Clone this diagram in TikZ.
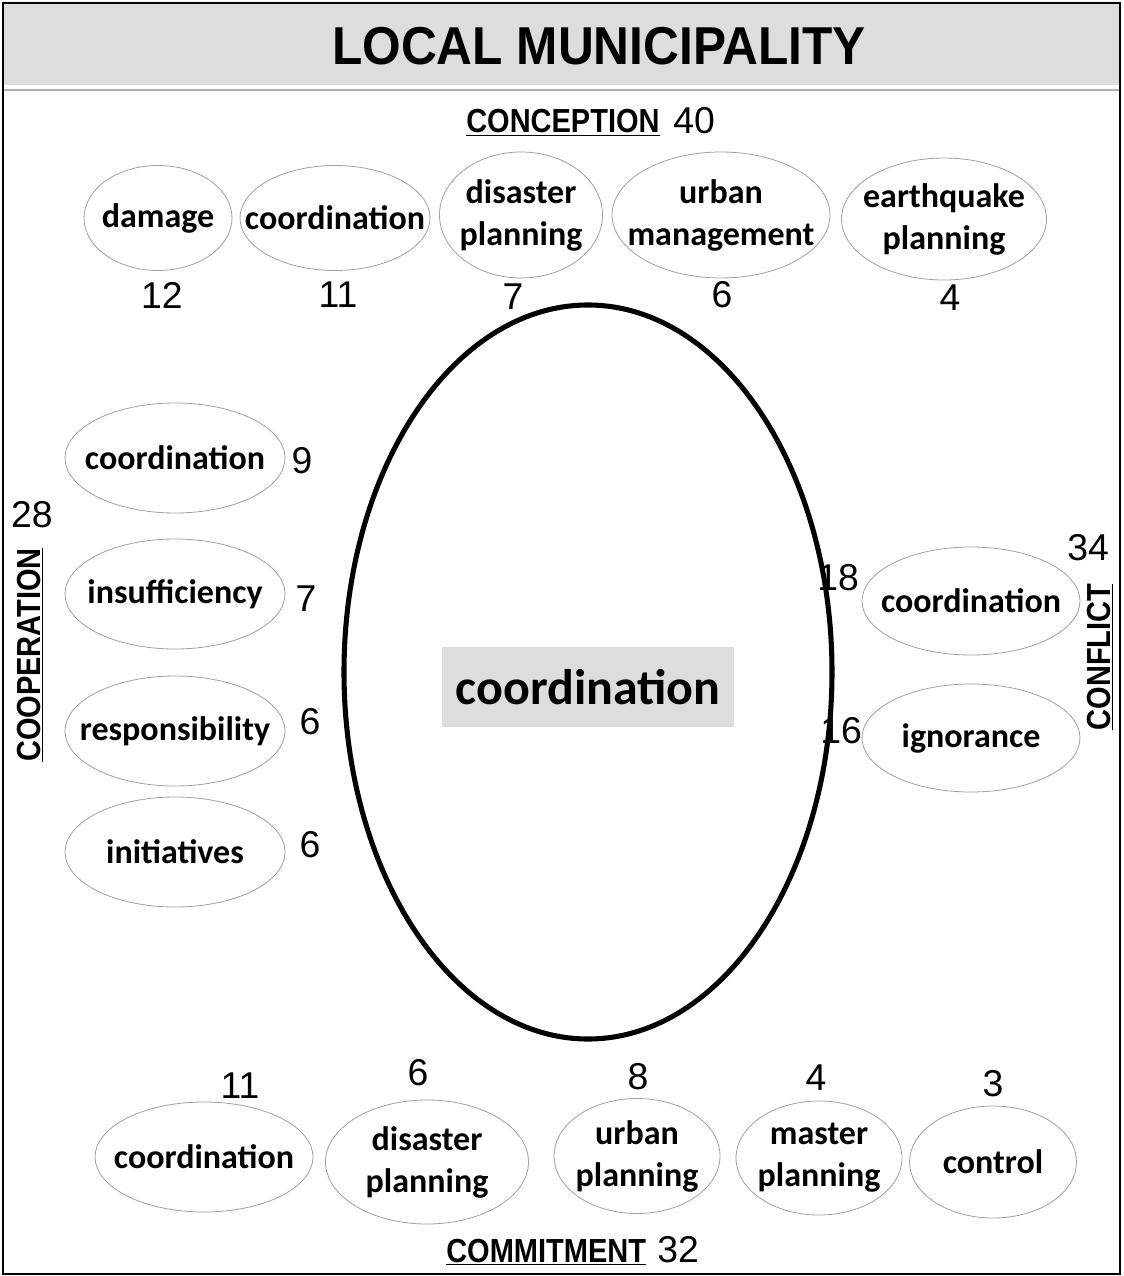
\documentclass[tikz,border=0pt]{standalone}
\usepackage{fontspec}
\usepackage{graphicx}
\setmainfont{Liberation Sans}
\newfontfamily\bubblefont{Carlito}
\usetikzlibrary{shapes.geometric}

\definecolor{bandgray}{HTML}{DCDDDC}
\definecolor{rimgray}{HTML}{A0A0A0}

\tikzset{
  bub/.style 2 args={ellipse, draw=rimgray, line width=0.6pt, inner sep=0pt,
    minimum width=#1*0.75pt, minimum height=#2*0.75pt},
  btext/.style={font=\bubblefont\bfseries\fontsize{25.5}{31.5}\selectfont,
    align=center, inner sep=0pt},
  count/.style={font=\fontsize{28}{28}\selectfont, inner sep=0pt},
  heading/.style={font=\bfseries\fontsize{25}{25}\selectfont, inner sep=0pt},
}
\newcommand{\headtext}[1]{\underline{\scalebox{0.87}[1]{#1}}}

\begin{document}
\begin{tikzpicture}[x=0.75pt, y=-0.75pt]
  \useasboundingbox (0,0) rectangle (1123,1276);

  % frame and title band
  \fill[bandgray] (4,4) rectangle (1119,85);
  \draw[bandgray!80!black, line width=1.2pt] (4,90) -- (1119,90);
  \draw[line width=2.2pt] (3,3) rectangle (1120,1274);
  \node[font=\bfseries\fontsize{40}{40}\selectfont, inner sep=0pt] (title) at (599,46)
    {\scalebox{0.93}[1]{LOCAL MUNICIPALITY}};

  % central theme
  \node[ellipse, draw, line width=3.8pt, minimum width=488*0.75pt,
    minimum height=734*0.75pt, inner sep=0pt] (core) at (588,672) {};
  \node[fill=bandgray, minimum width=292*0.75pt, minimum height=80*0.75pt,
    inner sep=0pt, font=\bubblefont\bfseries\fontsize{37.5}{37.5}\selectfont]
    (coretext) at (588,687) {coordination};

  % CONCEPTION (top)
  \node[heading, anchor=base west] (conception) at (466,133) {\headtext{CONCEPTION}};
  \node[count, anchor=base west] (conceptionN) at (673,134) {40};

  \node[bub={148}{105}] (t1) at (158,218) {};
  \node[btext] (t1l) at (t1) {damage};
  \node[bub={190}{105}] (t2) at (335,218) {};
  \node[btext] (t2l) at (t2) {coordination};
  \node[bub={163}{126}] (t3) at (521,215) {};
  \node[btext] (t3l) at (t3) {disaster\\planning};
  \node[bub={218}{126}] (t4) at (721,215) {};
  \node[btext] (t4l) at (t4) {urban\\management};
  \node[bub={205}{122}] (t5) at (944,219) {};
  \node[btext] (t5l) at (t5) {earthquake\\planning};

  \node[count] (t1n) at (162,295) {12};
  \node[count] (t2n) at (338,295) {11};
  \node[count] (t3n) at (513,297) {7};
  \node[count] (t4n) at (722,295) {6};
  \node[count] (t5n) at (950,298) {4};

  % COOPERATION (left)
  \node[heading, rotate=90] (cooperation) at (30,655) {\headtext{COOPERATION}};
  \node[count] (cooperationN) at (32,515) {28};

  \node[bub={220}{110}] (l1) at (175,458) {};
  \node[btext] (l1l) at (l1) {coordination};
  \node[bub={220}{110}] (l2) at (175,594) {};
  \node[btext] (l2l) at (l2) {insufficiency};
  \node[bub={220}{110}] (l3) at (175,731) {};
  \node[btext] (l3l) at (l3) {responsibility};
  \node[bub={220}{110}] (l4) at (175,852) {};
  \node[btext] (l4l) at (l4) {initiatives};

  \node[count] (l1n) at (302,461) {9};
  \node[count] (l2n) at (306,599) {7};
  \node[count] (l3n) at (310,722) {6};
  \node[count] (l4n) at (310,845) {6};

  % CONFLICT (right)
  \node[heading, rotate=90] (conflict) at (1100,657) {\headtext{CONFLICT}};
  \node[count] (conflictN) at (1088,548) {34};

  \node[bub={218}{108}] (r1) at (971,601) {};
  \node[btext] (r1l) at (r1) {coordination};
  \node[bub={218}{108}] (r2) at (971,738) {};
  \node[btext] (r2l) at (r2) {ignorance};

  \node[count] (r1n) at (838,578) {18};
  \node[count] (r2n) at (841,731) {16};

  % COMMITMENT (bottom)
  \node[bub={218}{110}] (b1) at (204,1157) {};
  \node[btext] (b1l) at (b1) {coordination};
  \node[bub={203}{124}] (b2) at (427,1162) {};
  \node[btext] (b2l) at (b2) {disaster\\planning};
  \node[bub={166}{115}] (b3) at (637,1156) {};
  \node[btext] (b3l) at (b3) {urban\\planning};
  \node[bub={166}{114}] (b4) at (819,1158) {};
  \node[btext] (b4l) at (b4) {master\\planning};
  \node[bub={167}{112}] (b5) at (993,1162) {};
  \node[btext] (b5l) at (b5) {control};

  \node[count] (b1n) at (240,1086) {11};
  \node[count] (b2n) at (418,1073) {6};
  \node[count] (b3n) at (638,1077) {8};
  \node[count] (b4n) at (816,1078) {4};
  \node[count] (b5n) at (993,1084) {3};

  \node[heading, anchor=base west] (commitment) at (446,1262) {\headtext{COMMITMENT}};
  \node[count, anchor=base west] (commitmentN) at (657,1262) {32};
\end{tikzpicture}
\end{document}
